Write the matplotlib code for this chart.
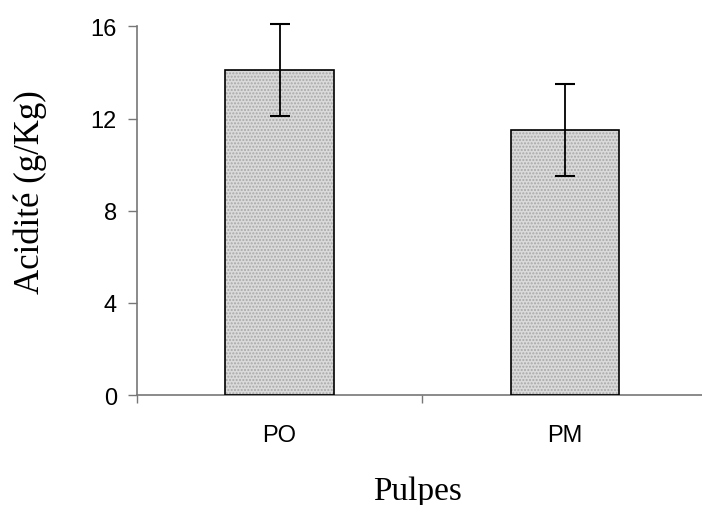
import numpy as np
import matplotlib.pyplot as plt
from matplotlib.ticker import FixedLocator

# Data
categories = ['PO', 'PM']
acidity = [14.1, 11.5]
errors = [2.0, 2.0]
y_ticks = [0, 4, 8, 12, 16]

fig = plt.figure(figsize=(7.02, 5.06), dpi=100)
fig.patch.set_facecolor('white')
ax = fig.add_axes([0.195, 0.217, 0.813, 0.729])

x = np.arange(len(categories))
width = 0.38

# Stippled fill, then the black outline on top
ax.bar(x, acidity, width, color='#dadada', edgecolor='#a8a8a8',
       hatch='.....', linewidth=0, zorder=2)
ax.bar(x, acidity, width, color='none', edgecolor='black',
       linewidth=1.2, zorder=3)
eb = ax.errorbar(x, acidity, yerr=errors, fmt='none', ecolor='black',
                 elinewidth=1.3, capsize=7, capthick=1.5, zorder=4)
for part in eb.lines[1] + eb.lines[2]:
    part.set_clip_on(False)

ax.set_xlim(-0.5, 1.5)
ax.set_ylim(0, 16)
ax.set_yticks(y_ticks)

ax.set_xticks(x)
ax.set_xticklabels(categories)
ax.xaxis.set_minor_locator(FixedLocator([-0.5, 0.5]))
ax.tick_params(axis='x', which='major', length=0, pad=21, labelsize=17)
ax.tick_params(axis='x', which='minor', length=6, color='#777777', width=1)
ax.tick_params(axis='y', length=6.5, color='#777777', width=1, pad=8, labelsize=17)
for lab in ax.get_xticklabels() + ax.get_yticklabels():
    lab.set_fontfamily('Liberation Sans')

for side in ['top', 'right']:
    ax.spines[side].set_visible(False)
for side in ['left', 'bottom']:
    ax.spines[side].set_color('#777777')
    ax.spines[side].set_linewidth(1.2)

ax.set_ylabel('Acidité (g/Kg)', fontfamily='Liberation Serif', fontsize=25)
ax.yaxis.set_label_coords(-0.158, 0.553)
ax.set_xlabel('Pulpes', fontfamily='Liberation Serif', fontsize=24)
ax.xaxis.set_label_coords(0.492, -0.217)

plt.savefig('out.png', dpi=100)
